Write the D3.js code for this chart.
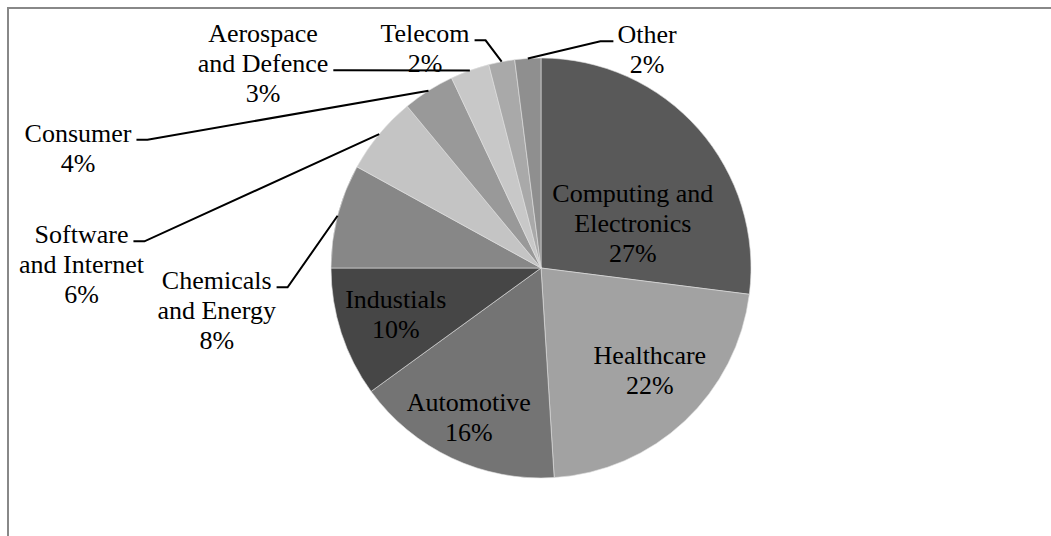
<!DOCTYPE html>
<html>
<head>
<meta charset="utf-8">
<script src="https://cdn.jsdelivr.net/npm/d3@7"></script>
<style>
html,body{margin:0;padding:0;background:#fff;}
svg{display:block;}
text{font-family:"Liberation Serif","Times New Roman",serif;font-size:26px;fill:#000;}
</style>
</head>
<body>
<svg id="chart" width="1051" height="536"></svg>
<script>
// ---- data ----
const categories = ["Computing and Electronics","Healthcare","Automotive","Industials","Chemicals and Energy","Software and Internet","Consumer","Aerospace and Defence","Telecom","Other"];
const labelLines = [["Computing and","Electronics"],["Healthcare"],["Automotive"],["Industials"],["Chemicals","and Energy"],["Software","and Internet"],["Consumer"],["Aerospace","and Defence"],["Telecom"],["Other"]];
const shares = [27,22,16,10,8,6,4,3,2,2];
const colors = ["#595959","#a2a2a2","#747474","#464646","#878787","#c4c4c4","#999999","#c8c8c8","#a9a9a9","#8f8f8f"];

// ---- layout ----
const W = 1051, H = 536;
const cx = 541, cy = 268, R = 210, lineH = 30;
// inside labels: [angle offset (deg) from slice mid, radius fraction]
const insideLayout = {0:[15.3,0.487],1:[-3.7,0.71],2:[0.6,0.79],3:[0.6,0.725]};
// outside labels: text block center x offset from pie centre, first baseline offset, leader line index
const outsideLayout = {
  4:{dx:-324.3, by:21.3, li:0},
  5:{dx:-459.5, by:-24.7, li:0},
  6:{dx:-463, by:-126.3, li:0},
  7:{dx:-278, by:-225.7, li:1},
  8:{dx:-116, by:-225.7, li:0},
  9:{dx:106, by:-224.7, li:0}
};

const svg = d3.select("#chart");
svg.append("rect").attr("x",8).attr("y",8).attr("width",W+20).attr("height",H+20)
  .attr("fill","none").attr("stroke","#888").attr("stroke-width",2);

const g = svg.append("g").attr("transform",`translate(${cx},${cy})`);
const pie = d3.pie().sort(null).value(d=>d)(shares);
const arc = d3.arc().innerRadius(0).outerRadius(R);

g.selectAll("path.slice").data(pie).join("path")
  .attr("class","slice")
  .attr("d",arc)
  .attr("fill",(d,i)=>colors[i])
  .attr("stroke","#e0e0e0").attr("stroke-width",0.6);

const fmt = v => Math.round(v) + "%";
const polar = (a, r) => [r*Math.sin(a), -r*Math.cos(a)];

pie.forEach((d,i)=>{
  const lines = labelLines[i].concat([fmt(shares[i])]);
  const mid = (d.startAngle + d.endAngle)/2;
  if (insideLayout[i]) {
    const [off,k] = insideLayout[i];
    const [x,y] = polar(mid + off*Math.PI/180, k*R);
    const firstBase = y - (lines.length-1)*lineH/2 + 9;
    const t = g.append("text").attr("text-anchor","middle");
    lines.forEach((s,j)=>t.append("tspan").attr("x",x).attr("y",firstBase + j*lineH).text(s));
  } else {
    const L = outsideLayout[i];
    const x = L.dx, firstBase = L.by;
    const t = g.append("text").attr("text-anchor","middle");
    const spans = [];
    lines.forEach((s,j)=>spans.push(t.append("tspan").attr("x",x).attr("y",firstBase + j*lineH).text(s)));
    const node = spans[L.li].node();
    const w = node.getComputedTextLength();
    const ly = firstBase + L.li*lineH - 2;
    const edge = polar(mid, R);
    const rightSide = edge[0] > x;
    const startX = rightSide ? x + w/2 + 5 : x - w/2 - 4;
    const elbowX = rightSide ? startX + 11 : startX - 13;
    g.append("path")
      .attr("d", d3.line()([[startX,ly],[elbowX,ly],edge]))
      .attr("fill","none").attr("stroke","#000").attr("stroke-width",2);
  }
});
</script>
</body>
</html>
